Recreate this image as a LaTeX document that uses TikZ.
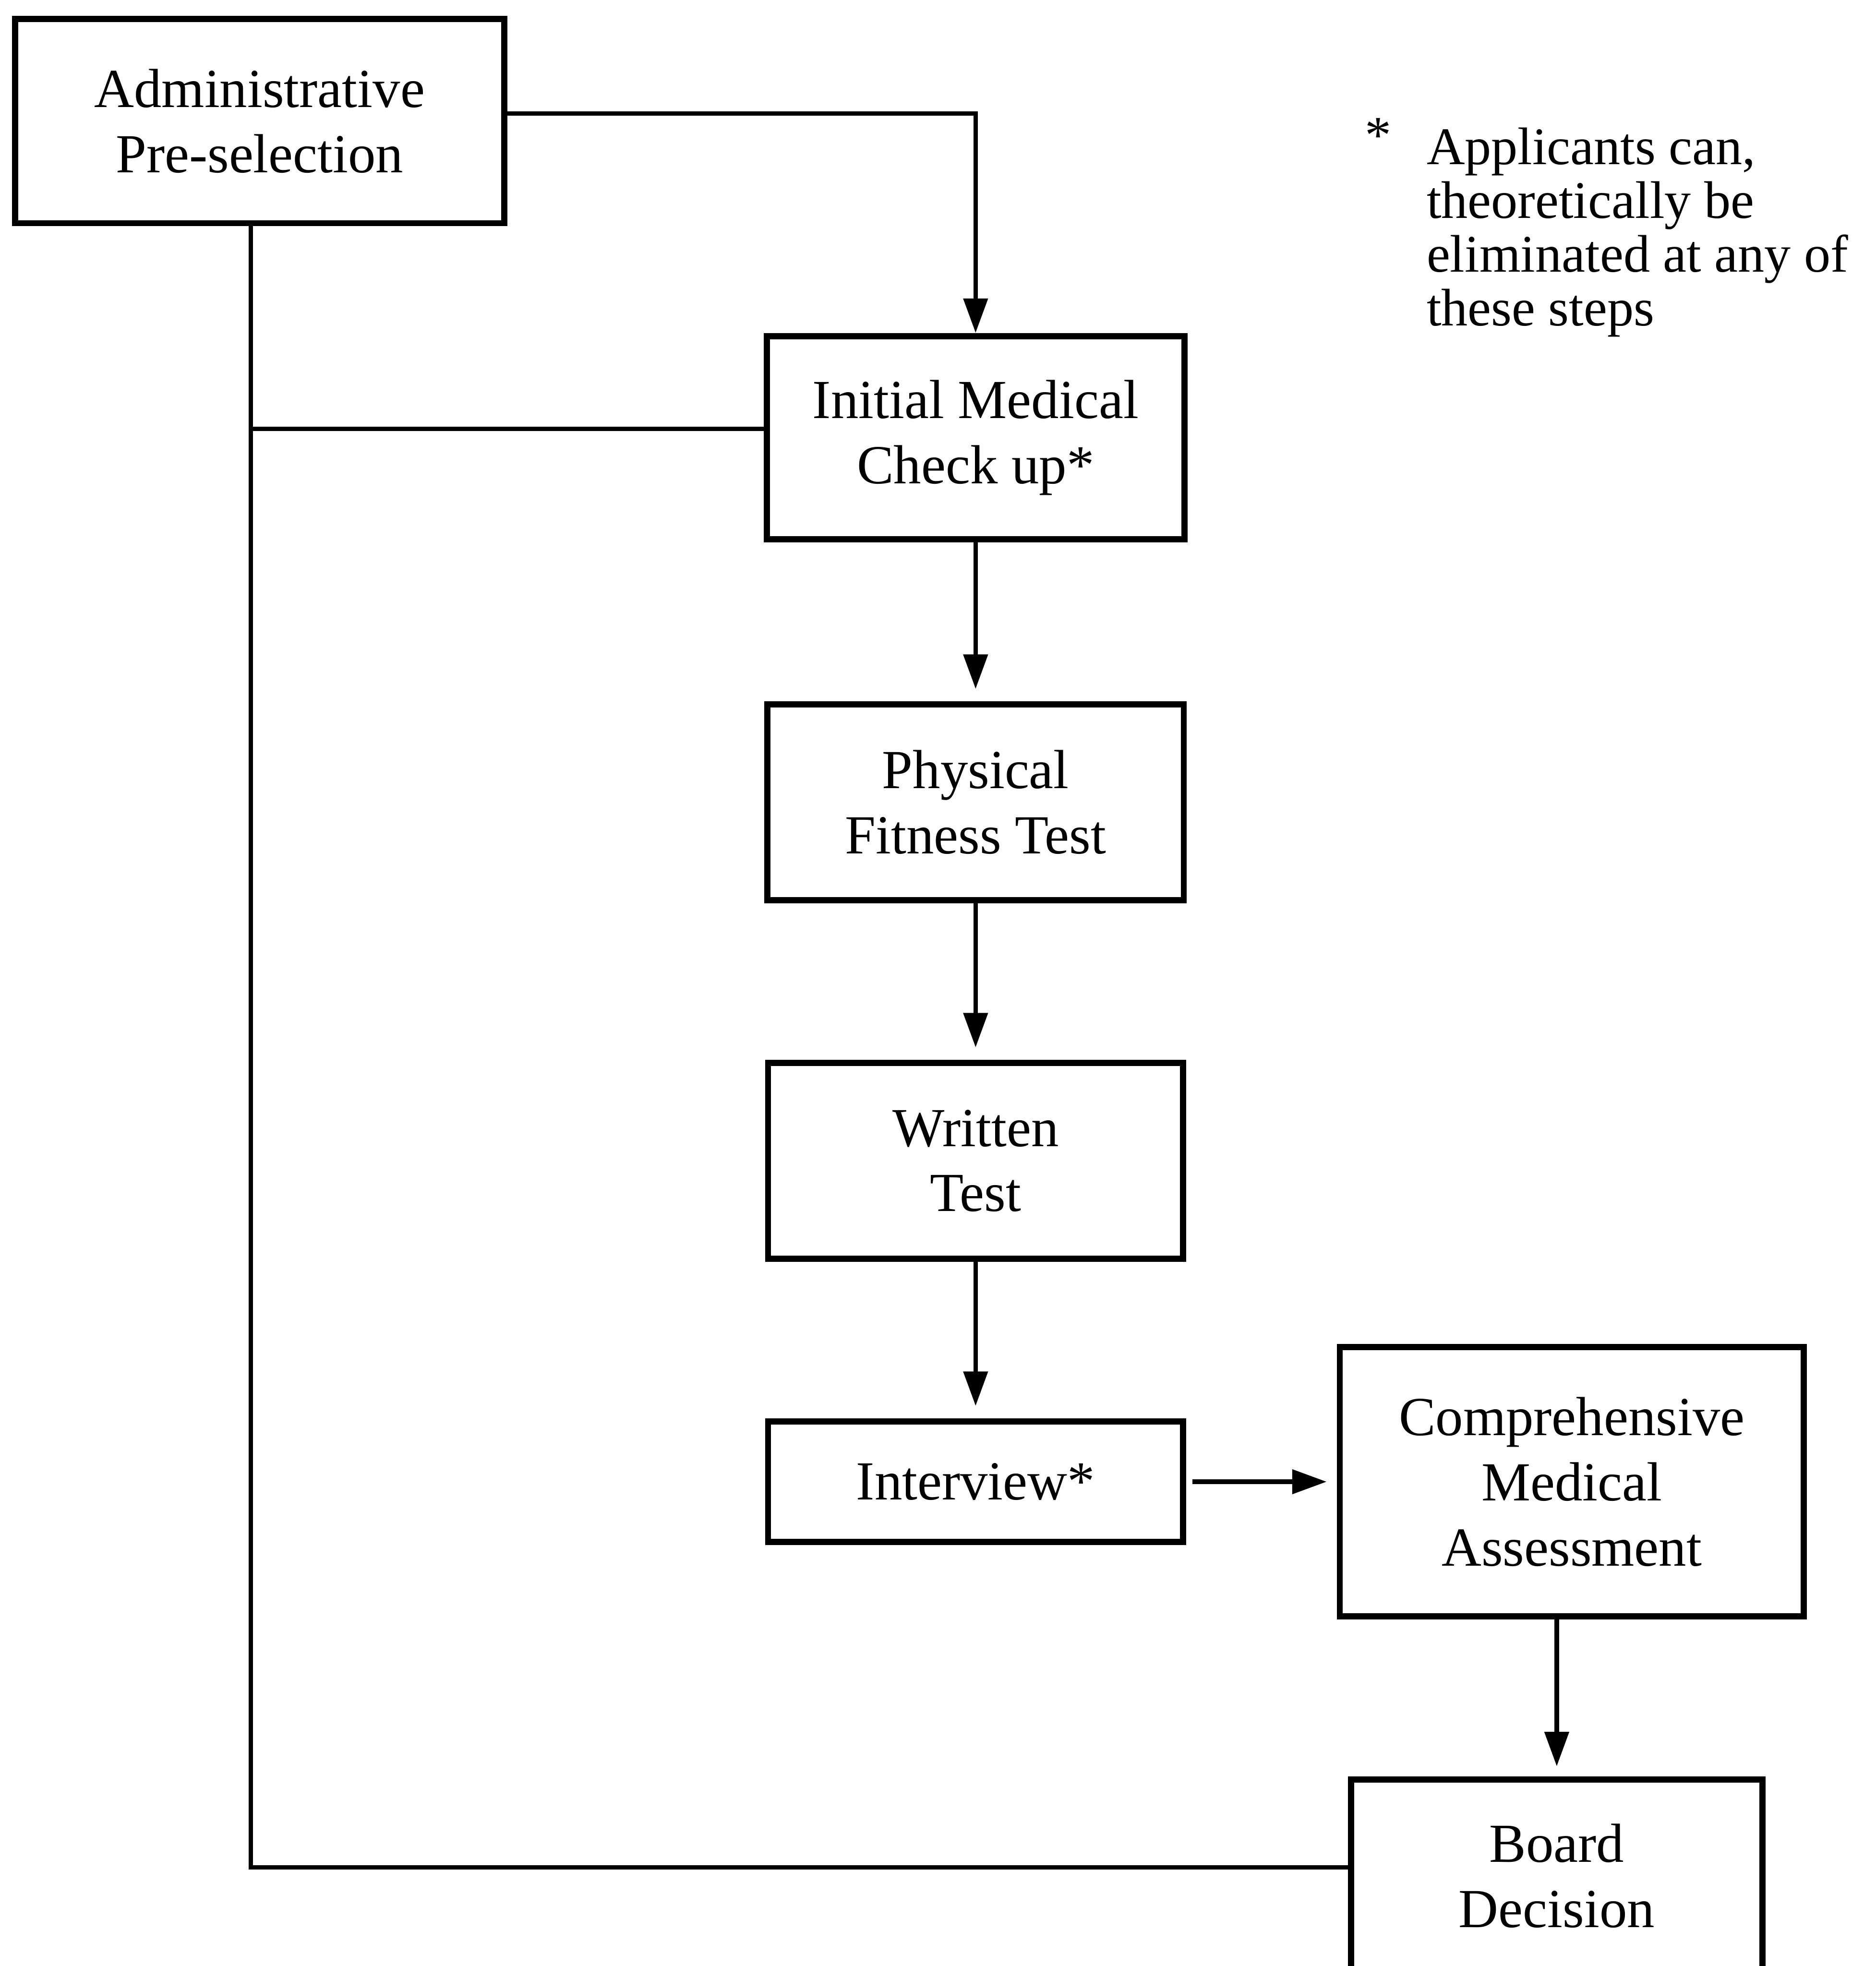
\documentclass[tikz,border=0pt]{standalone}
\usepackage{fontspec}
\setmainfont{Liberation Serif}
\usetikzlibrary{arrows.meta, positioning}

\begin{document}
\begin{tikzpicture}[node distance=1.25cm, auto,
    stepbox/.style={draw, line width=1.4pt, align=center, inner sep=2pt, font=\fontsize{12.5}{14.8}\selectfont},
    flow/.style={-{Triangle[length=2.75mm, width=1.9mm]}, line width=1pt},
    link/.style={line width=1pt}]
    \useasboundingbox (0,0) rectangle (14.96,-15.68);

    \node[stepbox, minimum width=3.9cm, minimum height=1.63cm] (admin) at (2.07,-0.965) {Administrative\\Pre-selection};
    \node[stepbox, minimum width=3.33cm, minimum height=1.62cm] (imc) at (7.78,-3.49) {Initial Medical\\Check up*};
    \node[stepbox, below=1.27cm of imc, minimum width=3.32cm, minimum height=1.56cm] (pft) {Physical\\Fitness Test};
    \node[stepbox, below=of pft, minimum width=3.31cm, minimum height=1.56cm] (wt) {Written\\Test};
    \node[stepbox, below=of wt, minimum width=3.31cm, minimum height=0.96cm] (intv) {Interview*};
    \node[stepbox, right=1.2cm of intv, minimum width=3.7cm, minimum height=2.15cm] (cma) {Comprehensive\\Medical\\Assessment};
    \node[stepbox, below=of cma, xshift=-0.12cm, minimum width=3.28cm, minimum height=1.54cm] (board) {Board\\Decision};

    % note on the eliminations
    \node[anchor=base, font=\fontsize{12}{12.2}\selectfont] (star) at (10.99,-1.22) {*};
    \node[anchor=north west, inner sep=0pt, align=left, font=\fontsize{12}{12.2}\selectfont] (note) at (11.37,-1.01)
        {Applicants can,\\theoretically be\\eliminated at any of\\these steps};

    \coordinate (trunk) at ([xshift=-0.07cm]admin.south);
    \draw[flow] ([yshift=0.06cm]admin.east) -| (imc.north);
    \draw[link] (trunk) |- ([yshift=0.07cm]board.west);
    \draw[link] ([yshift=0.07cm]imc.west) -- ([yshift=0.07cm]imc.west -| trunk);
    \draw[flow, shorten >=1mm] (imc) -- (pft);
    \draw[flow, shorten >=1mm] (pft) -- (wt);
    \draw[flow, shorten >=1mm] (wt) -- (intv);
    \draw[flow, shorten <=0.5mm, shorten >=0.8mm] (intv) -- (cma);
    \draw[flow, shorten >=0.8mm] (cma.south -| board.north) -- (board.north);
\end{tikzpicture}
\end{document}
